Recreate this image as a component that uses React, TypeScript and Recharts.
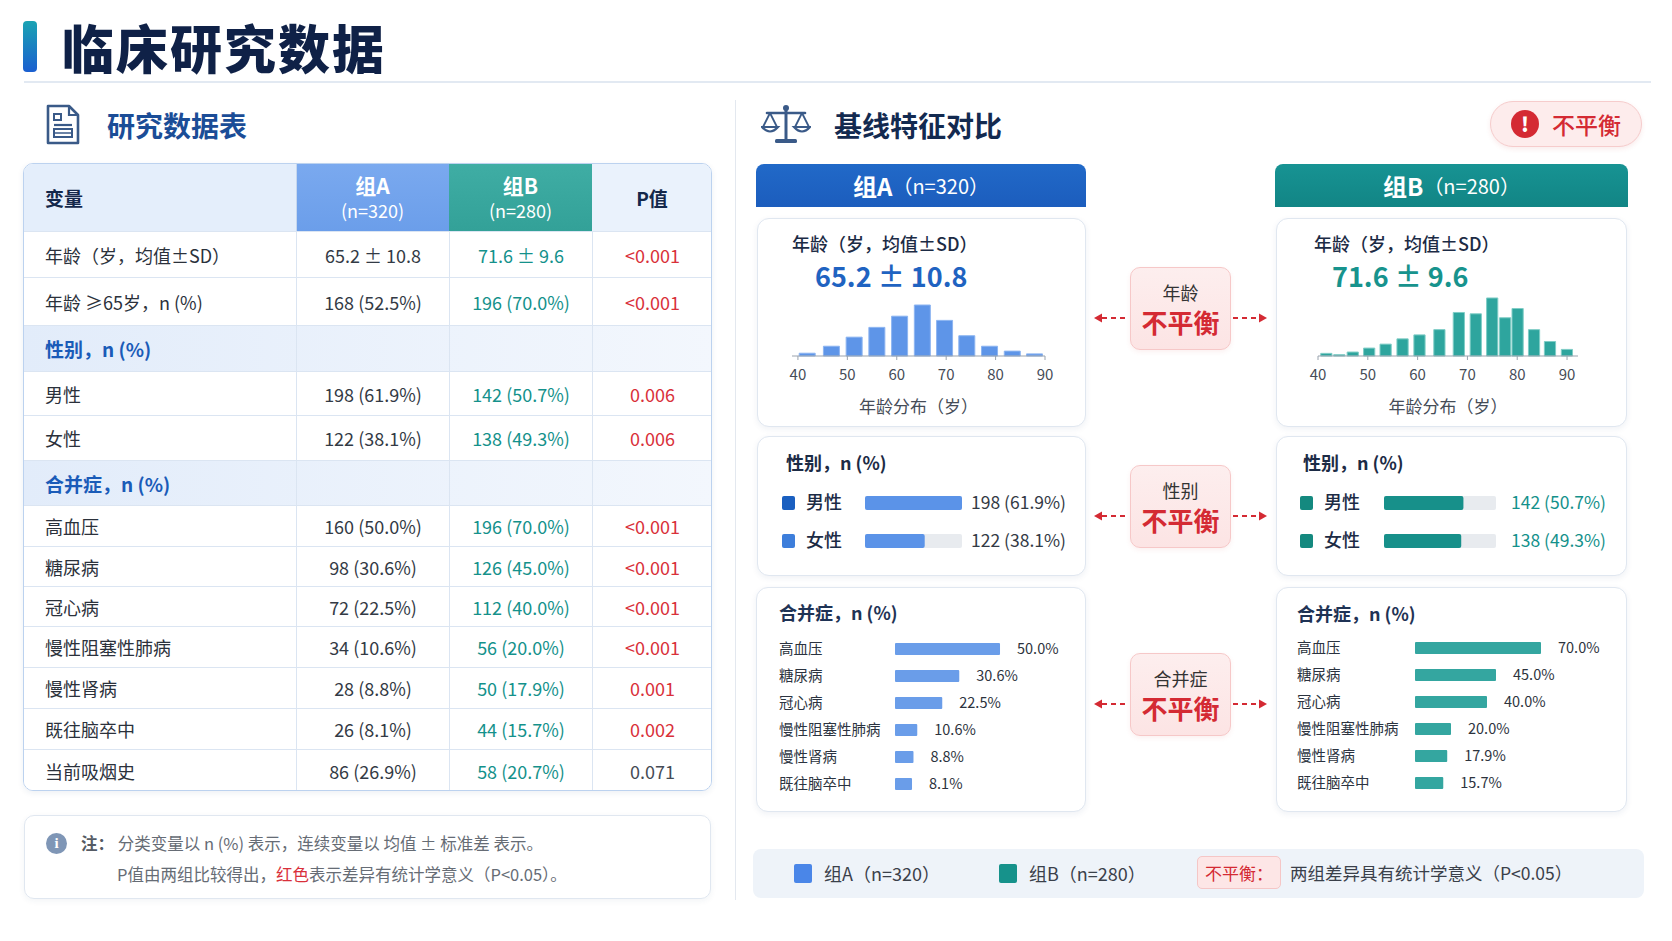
import { Bar, BarChart, LabelList, XAxis, YAxis } from 'recharts';

const FONT = '"Noto Sans CJK SC", "Noto Sans", sans-serif';
const BLUE = '#1f63c1';
const TEAL = '#14918b';
const RED = '#d42a33';
const NAVY = '#14284b';

// 研究数据表
const tableLabels = [
  '年龄（岁，均值±SD）',
  '年龄 ≥65岁，n (%)',
  '性别，n (%)',
  '男性',
  '女性',
  '合并症，n (%)',
  '高血压',
  '糖尿病',
  '冠心病',
  '慢性阻塞性肺病',
  '慢性肾病',
  '既往脑卒中',
  '当前吸烟史',
];
const tableGroupA = ['65.2 ± 10.8', '168 (52.5%)', '', '198 (61.9%)', '122 (38.1%)', '', '160 (50.0%)', '98 (30.6%)', '72 (22.5%)', '34 (10.6%)', '28 (8.8%)', '26 (8.1%)', '86 (26.9%)'];
const tableGroupB = ['71.6 ± 9.6', '196 (70.0%)', '', '142 (50.7%)', '138 (49.3%)', '', '196 (70.0%)', '126 (45.0%)', '112 (40.0%)', '56 (20.0%)', '50 (17.9%)', '44 (15.7%)', '58 (20.7%)'];
const tablePValues = ['<0.001', '<0.001', '', '0.006', '0.006', '', '<0.001', '<0.001', '<0.001', '<0.001', '0.001', '0.002', '0.071'];
const sectionLabels = ['性别，n (%)', '合并症，n (%)'];

// 年龄分布
const ageTicks = [40, 50, 60, 70, 80, 90];
const ageBinsA = [41.9, 46.8, 51.4, 56.0, 60.6, 65.2, 69.7, 74.2, 78.8, 83.4, 87.9];
const ageCountsA = [4, 14, 27, 41, 57, 73, 51, 29, 14, 7, 3];
const ageBinsB = [41.6, 44.2, 46.9, 50.2, 53.5, 56.9, 60.3, 64.3, 68.2, 71.6, 74.9, 77.5, 80.0, 83.3, 86.5, 89.9];
const ageCountsB = [2, 1, 3, 6, 9, 13, 16, 20, 33, 32, 44, 29, 36, 20, 11, 5];

// 性别
const sexLabels = ['男性', '女性'];
const sexCountsA = [198, 122];
const sexPctA = [61.9, 38.1];
const sexCountsB = [142, 138];
const sexPctB = [50.7, 49.3];

// 合并症
const comorbLabels = ['高血压', '糖尿病', '冠心病', '慢性阻塞性肺病', '慢性肾病', '既往脑卒中'];
const comorbPctA = [50.0, 30.6, 22.5, 10.6, 8.8, 8.1];
const comorbPctB = [70.0, 45.0, 40.0, 20.0, 17.9, 15.7];

const rowHeights = [46, 48, 46, 44, 45, 45, 41, 40, 40, 41, 41, 41, 43];
const colWidths = [272, 153, 143, 120];

const abs = (left: number, top: number, extra: any = {}) => ({ position: 'absolute' as const, left, top, ...extra });

const card = (left: number, top: number, width: number, height: number) => ({
  position: 'absolute' as const,
  left,
  top,
  width,
  height,
  background: '#fff',
  border: '1px solid #e0e7f0',
  borderRadius: 12,
  boxShadow: '0 2px 6px rgba(30,60,110,0.07)',
  boxSizing: 'border-box' as const,
});

function isSignificant(p: string) {
  return p.startsWith('<') || parseFloat(p) < 0.05;
}

function DataTable() {
  let y = 67;
  const xs = [0, colWidths[0], colWidths[0] + colWidths[1], colWidths[0] + colWidths[1] + colWidths[2]];
  return (
    <div style={abs(23, 163, { width: 689, height: 628, border: '1px solid #bcd2ef', borderRadius: 10, overflow: 'hidden', boxSizing: 'border-box', boxShadow: '0 2px 6px rgba(30,60,110,0.08)' })}>
      {/* header */}
      <div style={abs(0, 0, { width: colWidths[0], height: 67, background: '#e4eefb', display: 'flex', alignItems: 'center', paddingLeft: 21, boxSizing: 'border-box', fontSize: 19, fontWeight: 700, color: NAVY })}>变量</div>
      <div style={abs(xs[1], 0, { width: colWidths[1], height: 67, background: 'linear-gradient(180deg,#7aa9ef,#6b9eea)', color: '#fff', textAlign: 'center' })}>
        <div style={{ fontSize: 21, fontWeight: 700, lineHeight: '25px', marginTop: 9 }}>组A</div>
        <div style={{ fontSize: 18, lineHeight: '25px' }}>(n=320)</div>
      </div>
      <div style={abs(xs[2], 0, { width: colWidths[2], height: 67, background: 'linear-gradient(180deg,#3fada4,#33a198)', color: '#fff', textAlign: 'center' })}>
        <div style={{ fontSize: 21, fontWeight: 700, lineHeight: '25px', marginTop: 9 }}>组B</div>
        <div style={{ fontSize: 18, lineHeight: '25px' }}>(n=280)</div>
      </div>
      <div style={abs(xs[3], 0, { width: colWidths[3], height: 67, background: '#eaf2fc', display: 'flex', alignItems: 'center', justifyContent: 'center', fontSize: 19, fontWeight: 700, color: NAVY })}>P值</div>
      {tableLabels.map((label, i) => {
        const top = y;
        const h = rowHeights[i];
        y += h;
        const section = sectionLabels.includes(label);
        const p = tablePValues[i];
        return (
          <div key={label} style={abs(0, top, { width: 689, height: h, borderTop: '1px solid #dbe5f2', boxSizing: 'border-box', background: section ? 'linear-gradient(90deg,#e2ecfa,#f3f7fd)' : '#fff' })}>
            <div style={abs(21, 0, { height: h - 1, display: 'flex', alignItems: 'center', fontSize: section ? 19 : 18, fontWeight: section ? 600 : 400, color: section ? '#1a5bb8' : '#2b313b', whiteSpace: 'nowrap' })}>{label}</div>
            {[tableGroupA[i], tableGroupB[i], p].map((v, j) => (
              <div key={j} style={abs(xs[j + 1], 0, { width: colWidths[j + 1], height: h - 1, borderLeft: '1px solid #dbe5f2', boxSizing: 'border-box', display: 'flex', alignItems: 'center', justifyContent: 'center', fontSize: 18, whiteSpace: 'nowrap', color: j === 0 ? '#333a45' : j === 1 ? TEAL : isSignificant(p) ? '#d9303a' : '#454b55' })}>{v}</div>
            ))}
          </div>
        );
      })}
      <div style={abs(xs[1], 0, { width: 0, height: 67, borderLeft: '1px solid #c6d7ee' })} />
    </div>
  );
}

function AgeHistogram({ left, bins, counts, domain, yMax, fill, stroke, barSize, marginLeft, marginRight }: any) {
  const data = bins.map((age: number, i: number) => ({ age, count: counts[i] }));
  return (
    <div style={abs(left, 290)}>
      <BarChart width={320} height={132} data={data} margin={{ top: 6, right: marginRight, bottom: 0, left: marginLeft }}>
        <XAxis
          type="number"
          dataKey="age"
          domain={domain}
          ticks={ageTicks}
          interval={0}
          allowDataOverflow
          height={66}
          tickSize={4}
          tickMargin={9}
          stroke="#9aa3ae"
          tick={{ fill: '#454c57', fontSize: 15, fontFamily: FONT }}
          label={{ value: '年龄分布（岁）', position: 'insideBottom', offset: 9, fill: '#454c57', fontSize: 17, fontFamily: FONT }}
        />
        <YAxis hide domain={[0, yMax]} />
        <Bar dataKey="count" fill={fill} stroke={stroke} strokeWidth={1} barSize={barSize} isAnimationActive={false} />
      </BarChart>
    </div>
  );
}

function SexBars({ left, counts, pcts, fill, markers, textColor, xMax, labelWidth, plotWidth, valueWidth, valueGap }: any) {
  const data = sexLabels.map((name, i) => ({ name, pct: pcts[i], text: `${counts[i]} (${pcts[i].toFixed(1)}%)` }));
  return (
    <div style={abs(left, 484)}>
      <BarChart layout="vertical" width={labelWidth + plotWidth + valueWidth} height={76} data={data} margin={{ top: 0, right: 0, bottom: 0, left: 0 }}>
        <XAxis type="number" hide domain={[0, xMax]} />
        <YAxis
          yAxisId="l"
          type="category"
          dataKey="name"
          width={labelWidth}
          axisLine={false}
          tickLine={false}
          tick={(p: any) => (
            <g>
              <rect x={0} y={p.y - 7} width={13} height={14} rx={2} fill={markers[p.index]} />
              <text x={24} y={p.y} dy={6} fontSize={18} fontWeight={500} fill="#1c2b45" fontFamily={FONT}>{p.payload.value}</text>
            </g>
          )}
        />
        <YAxis
          yAxisId="r"
          orientation="right"
          type="category"
          dataKey="text"
          width={valueWidth}
          axisLine={false}
          tickLine={false}
          tickSize={0}
          tickMargin={valueGap}
          tick={{ fill: textColor, fontSize: 17.5, fontFamily: FONT }}
        />
        <Bar yAxisId="l" dataKey="pct" fill={fill} barSize={14} radius={2} background={{ fill: '#e8ebef', radius: 2 }} isAnimationActive={false} />
      </BarChart>
    </div>
  );
}

function ComorbBars({ left, top, pcts, fill, xMax, width, labelWidth, marginRight }: any) {
  const data = comorbLabels.map((name, i) => ({ name, pct: pcts[i] }));
  return (
    <div style={abs(left, top)}>
      <BarChart layout="vertical" width={width} height={162} data={data} margin={{ top: 0, right: marginRight, bottom: 0, left: 0 }}>
        <XAxis type="number" hide domain={[0, xMax]} />
        <YAxis
          type="category"
          dataKey="name"
          width={labelWidth}
          axisLine={false}
          tickLine={false}
          tick={(p: any) => (
            <text x={0} y={p.y} dy={5} fontSize={14.5} fill="#2b3340" fontFamily={FONT}>{p.payload.value}</text>
          )}
        />
        <Bar dataKey="pct" fill={fill} barSize={12} radius={1} isAnimationActive={false}>
          <LabelList dataKey="pct" position="right" offset={17} formatter={(v: any) => `${Number(v).toFixed(1)}%`} fill="#2d333d" fontSize={14.5} fontFamily={FONT} />
        </Bar>
      </BarChart>
    </div>
  );
}

function Imbalance({ top, label }: { top: number; label: string }) {
  return (
    <>
      <svg style={abs(1090, top + 41)} width={182} height={20}>
        <line x1={12} y1={10} x2={39} y2={10} stroke={RED} strokeWidth={2} strokeDasharray="5 4" />
        <path d="M4 10 L12 5.5 L12 14.5 Z" fill={RED} />
        <line x1={143} y1={10} x2={170} y2={10} stroke={RED} strokeWidth={2} strokeDasharray="5 4" />
        <path d="M177 10 L169 5.5 L169 14.5 Z" fill={RED} />
      </svg>
      <div style={abs(1130, top, { width: 101, height: 83, background: 'linear-gradient(180deg,#fdeeee,#fce4e4)', border: '1px solid #f6c8c8', borderRadius: 10, boxSizing: 'border-box', textAlign: 'center', boxShadow: '0 2px 5px rgba(200,60,60,0.08)' })}>
        <div style={{ fontSize: 18, lineHeight: '26px', marginTop: 11, color: '#333' }}>{label}</div>
        <div style={{ fontSize: 26, lineHeight: '34px', fontWeight: 700, color: RED }}>不平衡</div>
      </div>
    </>
  );
}

export default function App() {
  return (
    <div style={{ position: 'absolute', left: 0, top: 0, width: 1672, height: 941, background: '#fff', fontFamily: FONT, overflow: 'hidden' }}>
      {/* title */}
      <div style={abs(23, 21, { width: 14, height: 51, borderRadius: 4, background: 'linear-gradient(180deg,#1aa3b3,#1b5fd0)' })} />
      <div style={abs(62, 16, { fontSize: 52, fontWeight: 900, color: '#0f2147', letterSpacing: 2, lineHeight: '62px' })}>临床研究数据</div>
      <div style={abs(24, 81, { width: 1627, height: 2, background: '#e2e9f2' })} />

      {/* left: table */}
      <svg style={abs(45, 103)} width={36} height={43}>
        <path d="M3 3 H24 L33 12 V40 H3 Z" fill="none" stroke="#3a5a88" strokeWidth={2.6} strokeLinejoin="round" />
        <path d="M24 3 V12 H33" fill="none" stroke="#3a5a88" strokeWidth={2.2} />
        <rect x={9} y={11} width={7} height={6} fill="none" stroke="#3a5a88" strokeWidth={2} />
        <line x1={9} y1={22} x2={27} y2={22} stroke="#3a5a88" strokeWidth={2.2} />
        <rect x={9} y={26} width={18} height={8} fill="none" stroke="#3a5a88" strokeWidth={2} />
        <line x1={9} y1={30} x2={27} y2={30} stroke="#3a5a88" strokeWidth={1.5} />
      </svg>
      <div style={abs(107, 106, { fontSize: 28, fontWeight: 700, color: '#1b4d97', lineHeight: '38px' })}>研究数据表</div>
      <DataTable />

      {/* note */}
      <div style={abs(24, 815, { width: 687, height: 84, border: '1px solid #e0e7f0', borderRadius: 10, boxSizing: 'border-box', boxShadow: '0 2px 6px rgba(30,60,110,0.06)' })} />
      <div style={abs(46, 833, { width: 21, height: 21, borderRadius: 11, background: '#7f96b6', color: '#fff', fontSize: 15, fontWeight: 700, lineHeight: '21px', textAlign: 'center', fontFamily: 'Liberation Serif, serif' })}>i</div>
      <div style={abs(81, 831, { fontSize: 16.5, lineHeight: '24px', color: '#666c75', whiteSpace: 'nowrap' })}>
        <span style={{ fontWeight: 700, color: '#555b64' }}>注：</span> 分类变量以 n (%) 表示，连续变量以 均值 ± 标准差 表示。
      </div>
      <div style={abs(117, 862, { fontSize: 16.5, lineHeight: '24px', color: '#666c75', whiteSpace: 'nowrap' })}>
        P值由两组比较得出，<span style={{ color: '#d9303a' }}>红色</span>表示差异有统计学意义（P&lt;0.05）。
      </div>

      {/* divider */}
      <div style={abs(735, 100, { width: 1, height: 800, background: '#e3e8ef' })} />

      {/* right: comparison */}
      <svg style={abs(761, 103)} width={50} height={42}>
        <line x1={25} y1={5} x2={25} y2={36} stroke="#3a5a88" strokeWidth={3} />
        <circle cx={25} cy={5} r={3} fill="#3a5a88" />
        <line x1={6} y1={10} x2={44} y2={10} stroke="#3a5a88" strokeWidth={2.6} strokeLinecap="round" />
        <path d="M9 10 L2 24 M9 10 L16 24" stroke="#3a5a88" strokeWidth={1.8} fill="none" />
        <path d="M1 24 Q9 33 17 24 Z" fill="none" stroke="#3a5a88" strokeWidth={2.2} />
        <path d="M41 10 L34 24 M41 10 L48 24" stroke="#3a5a88" strokeWidth={1.8} fill="none" />
        <path d="M33 24 Q41 33 49 24 Z" fill="none" stroke="#3a5a88" strokeWidth={2.2} />
        <rect x={14} y={36} width={22} height={4} rx={1.5} fill="#3a5a88" />
      </svg>
      <div style={abs(834, 106, { fontSize: 28, fontWeight: 700, color: '#132a50', lineHeight: '38px' })}>基线特征对比</div>
      <div style={abs(1490, 101, { width: 152, height: 46, borderRadius: 23, background: '#fdecec', border: '1px solid #f6cccc', boxSizing: 'border-box', boxShadow: '0 2px 5px rgba(200,60,60,0.1)' })} />
      <div style={abs(1511, 110, { width: 28, height: 28, borderRadius: 14, background: RED, color: '#fff', fontSize: 20, fontWeight: 900, lineHeight: '28px', textAlign: 'center' })}>!</div>
      <div style={abs(1552, 108, { fontSize: 23, color: RED, fontWeight: 500, lineHeight: '32px' })}>不平衡</div>

      {/* group headers */}
      <div style={abs(756, 164, { width: 330, height: 43, borderRadius: '8px 8px 0 0', background: 'linear-gradient(180deg,#2169c8,#1c5dbd)', color: '#fff', display: 'flex', alignItems: 'center', justifyContent: 'center' })}>
        <span style={{ fontSize: 24, fontWeight: 700 }}>组A</span>
        <span style={{ fontSize: 20 }}>（n=320）</span>
      </div>
      <div style={abs(1275, 164, { width: 353, height: 43, borderRadius: '8px 8px 0 0', background: 'linear-gradient(180deg,#179393,#128585)', color: '#fff', display: 'flex', alignItems: 'center', justifyContent: 'center' })}>
        <span style={{ fontSize: 24, fontWeight: 700 }}>组B</span>
        <span style={{ fontSize: 20 }}>（n=280）</span>
      </div>

      {/* age cards */}
      <div style={card(757, 218, 329, 209)} />
      <div style={card(1276, 218, 351, 209)} />
      <div style={abs(792, 230, { fontSize: 18, fontWeight: 500, color: '#1c2b45', lineHeight: '26px' })}>年龄（岁，均值±SD）</div>
      <div style={abs(815, 258, { fontSize: 27, fontWeight: 600, color: BLUE, lineHeight: '36px' })}>65.2 ± 10.8</div>
      <div style={abs(1314, 230, { fontSize: 18, fontWeight: 500, color: '#1c2b45', lineHeight: '26px' })}>年龄（岁，均值±SD）</div>
      <div style={abs(1332, 258, { fontSize: 27, fontWeight: 600, color: '#17938d', lineHeight: '36px' })}>71.6 ± 9.6</div>
      <AgeHistogram left={760} bins={ageBinsA} counts={ageCountsA} domain={[38.8, 90]} yMax={85.9} fill="#5e95e8" stroke="#8db5f1" barSize={16} marginLeft={32} marginRight={35} />
      <AgeHistogram left={1280} bins={ageBinsB} counts={ageCountsB} domain={[40, 92.2]} yMax={45.5} fill="#2ea59e" stroke="#7fcdc6" barSize={14} marginLeft={38} marginRight={22} />

      {/* sex cards */}
      <div style={card(757, 436, 329, 140)} />
      <div style={card(1276, 436, 351, 140)} />
      <div style={abs(786, 449, { fontSize: 18, fontWeight: 600, color: '#1c2b45', lineHeight: '26px' })}>性别，n (%)</div>
      <div style={abs(1303, 449, { fontSize: 18, fontWeight: 600, color: '#1c2b45', lineHeight: '26px' })}>性别，n (%)</div>
      <SexBars left={782} counts={sexCountsA} pcts={sexPctA} fill="#5b93e8" markers={['#1a5fc0', '#3d7edb']} textColor="#333a45" xMax={61.9} labelWidth={83} plotWidth={97} valueWidth={120} valueGap={9} />
      <SexBars left={1300} counts={sexCountsB} pcts={sexPctB} fill="#17908a" markers={['#14897f', '#14897f']} textColor={TEAL} xMax={71.5} labelWidth={84} plotWidth={112} valueWidth={124} valueGap={15} />

      {/* comorbidity cards */}
      <div style={card(756, 587, 330, 225)} />
      <div style={card(1276, 587, 351, 225)} />
      <div style={abs(779, 599, { fontSize: 18, fontWeight: 700, color: '#1f3355', lineHeight: '26px' })}>合并症，n (%)</div>
      <div style={abs(1297, 600, { fontSize: 18, fontWeight: 700, color: '#1f3355', lineHeight: '26px' })}>合并症，n (%)</div>
      <ComorbBars left={779} top={635} pcts={comorbPctA} fill="#6a9de9" xMax={73.8} width={300} labelWidth={116} marginRight={29} />
      <ComorbBars left={1297} top={634} pcts={comorbPctB} fill="#34a6a0" xMax={100} width={330} labelWidth={118} marginRight={32} />

      {/* imbalance badges */}
      <Imbalance top={267} label="年龄" />
      <Imbalance top={465} label="性别" />
      <Imbalance top={653} label="合并症" />

      {/* legend */}
      <div style={abs(753, 849, { width: 891, height: 49, background: '#eef3f9', borderRadius: 8 })} />
      <div style={abs(794, 864, { width: 18, height: 19, borderRadius: 2, background: '#4a86e8' })} />
      <div style={abs(824, 860, { fontSize: 18, color: '#3a404a', lineHeight: '26px' })}>组A（n=320）</div>
      <div style={abs(999, 864, { width: 18, height: 19, borderRadius: 2, background: '#16928b' })} />
      <div style={abs(1029, 860, { fontSize: 18, color: '#3a404a', lineHeight: '26px' })}>组B（n=280）</div>
      <div style={abs(1197, 856, { width: 84, height: 33, background: '#fde6e6', border: '1px solid #f5c6c6', borderRadius: 5, boxSizing: 'border-box', color: RED, fontSize: 17, lineHeight: '31px', textAlign: 'center' })}>不平衡：</div>
      <div style={abs(1290, 860, { fontSize: 17.5, color: '#3a404a', lineHeight: '26px' })}>两组差异具有统计学意义（P&lt;0.05）</div>
    </div>
  );
}
